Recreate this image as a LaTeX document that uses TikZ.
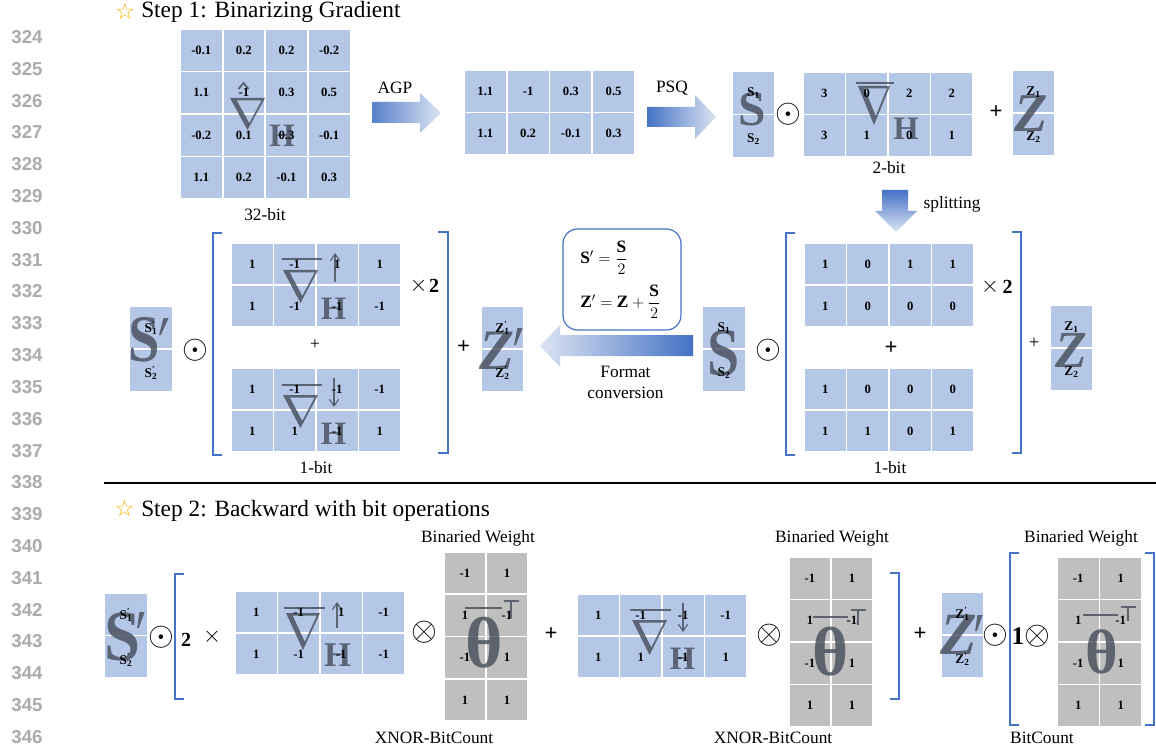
\documentclass[tikz,border=0pt]{standalone}
\usepackage{fontspec}
\usepackage{amsmath}
\setmainfont{Liberation Serif}
\newfontfamily\djv{DejaVu Sans}
\newfontfamily\lsans{Liberation Sans}
\usetikzlibrary{arrows.meta}
\definecolor{cellblue}{HTML}{B4C7E7}
\definecolor{cellgray}{HTML}{BFBFBF}
\definecolor{accblue}{HTML}{4472C4}
\definecolor{paleblue}{HTML}{DCE4F2}
\definecolor{ovlc}{HTML}{444C59}
\definecolor{lnumc}{HTML}{ABABAB}
\definecolor{staryel}{HTML}{F7B500}
\newcommand\myfs[1]{\fontsize{#1}{#1}\selectfont}
\pgfdeclarelayer{bg}\pgfdeclarelayer{cells}\pgfdeclarelayer{ovl}
\pgfsetlayers{bg,cells,ovl,main}
\tikzset{
  num/.style={font=\bfseries\myfs{9.5}, inner sep=0pt},
  lbl/.style={font=\bfseries\myfs{10}, inner sep=0pt},
  capt/.style={font=\myfs{13}, inner sep=0pt},
  ovlt/.style={text=ovlc, opacity=0.8, inner sep=0pt},
  ovlf/.style={fill=ovlc, opacity=0.8},
  ovlbar/.style={draw=ovlc, opacity=0.8, line width=1.9pt},
  ovlthin/.style={draw=ovlc, opacity=0.8, line width=0.9pt},
  gar/.style={ovlthin, -{Straight Barb[length=5pt,width=7pt]}},
  brk/.style={draw=accblue, line width=1.1pt},
  op/.style={inner sep=0pt, font=\myfs{23}},
  plusb/.style={inner sep=0pt, font=\bfseries\myfs{17}},
  plusr/.style={inner sep=0pt, font=\myfs{14}},
  lno/.style={inner sep=0pt, text=lnumc, font=\lsans\bfseries\myfs{14}},
  starst/.style={inner sep=0pt, text=staryel, font=\djv\myfs{17}},
  headst/.style={inner sep=0pt, anchor=base west, font=\myfs{17.5}},
}
% matrix of cells: name, x0, y0, cols, cw, ch, colour, values
\newcommand\blkmat[8]{%
  \foreach \mVal [count=\k from 0] in {#8}{%
    \pgfmathtruncatemacro\mRow{div(\k,#4)}%
    \pgfmathtruncatemacro\mCol{mod(\k,#4)}%
    \begin{pgfonlayer}{cells}
      \fill[#7] ({#2+\mCol*#5+0.9},{#3+\mRow*#6+0.9}) rectangle ({#2+(\mCol+1)*#5-0.9},{#3+(\mRow+1)*#6-0.9});
    \end{pgfonlayer}
    \node[num] (#1-\k) at ({#2+(\mCol+0.5)*#5},{#3+(\mRow+0.5)*#6}) {\mVal};
  }%
}
% tall two-cell box: name, x0, y0, w, h, top, bottom
\newcommand\tallbox[7]{%
  \begin{pgfonlayer}{cells}
    \fill[cellblue] (#2,#3) rectangle ({#2+#4},{#3+#5/2-0.9});
    \fill[cellblue] (#2,{#3+#5/2+0.9}) rectangle ({#2+#4},{#3+#5});
  \end{pgfonlayer}
  \node[lbl] (#1-t) at ({#2+#4/2},{#3+0.25*#5}) {#6};
  \node[lbl] (#1-b) at ({#2+#4/2},{#3+0.79*#5}) {#7};
}
% nabla outline: left top right bottom
\newcommand\drawnabla[4]{%
  \pgfmathsetmacro\nabW{#3-#1}%
  \pgfmathsetmacro\nabH{#4-#2}%
  \pgfmathsetmacro\nabD{2.5/\nabH}%
  \pgfmathsetmacro\nabS{1-(7.5)/\nabW}%
  \fill[ovlf, even odd rule] (#1,#2) -- (#3,#2) -- ({(#1+#3)/2},#4) -- cycle
    ({#1+5.5+\nabW/2*\nabD},{#2+2.5}) -- ({#3-2-\nabW/2*\nabD},{#2+2.5}) -- ({#1+5.5+\nabW/2*\nabS},{#2+\nabH*\nabS}) -- cycle;
}
\newcommand\prm[4]{\fill[ovlf] ({#1-2.6},#2) -- ({#1+2.6},#2) -- ({#3+0.9},#4) -- ({#3-0.9},#4) -- cycle;}
\newcommand\topsym[3]{\draw[ovlthin] ({#1-7.5},#2) -- ({#1+7.5},#2) (#1,#2) -- (#1,#3);}

\begin{document}
\begin{tikzpicture}[x=0.75pt,y=-0.75pt]
\useasboundingbox (0,0) rectangle (1156,752);
\begin{pgfonlayer}{bg}
  \fill[white] (0,0) rectangle (1156,752);
\end{pgfonlayer}

% line numbers
\foreach \i in {0,...,22}{%
  \pgfmathtruncatemacro\myLn{324+\i}%
  \node[lno] (ln\myLn) at (27,{37+31.82*\i}) {\myLn};
}

% headers
\node[starst] (star1) at (125,11) {☆};
\node[headst] (step1) at (141,17.5) {Step 1: Binarizing Gradient};
\draw[line width=1.1pt] (104,483) -- (1156,483);
\node[starst] (star2) at (124.5,508.5) {☆};
\node[headst] (step2) at (141,516.5) {Step 2: Backward with bit operations};

% ---------------- Row 1 ----------------
\blkmat{ma}{180}{29}{4}{42.6}{42.5}{cellblue}{-0.1,0.2,0.2,-0.2,1.1,-1,0.3,0.5,-0.2,0.1,0.3,-0.1,1.1,0.2,-0.1,0.3}
\node[capt] (c32) at (265,215) {32-bit};
\shade[left color=accblue!90, right color=paleblue] (372,102) -- (420,102) -- (420,93) -- (441,113) -- (420,133) -- (420,123) -- (372,123) -- cycle;
\node[capt] (agp) at (395,88) {AGP};
\blkmat{mb}{464}{70}{4}{42.75}{42.5}{cellblue}{1.1,-1,0.3,0.5,1.1,0.2,-0.1,0.3}
\shade[left color=accblue, right color=paleblue] (647,107) -- (695,107) -- (695,95) -- (716,117) -- (695,139) -- (695,127) -- (647,127) -- cycle;
\node[capt] (psq) at (672,88) {PSQ};
\tallbox{sa}{733}{72}{41}{85}{S\textsubscript{1}}{S\textsubscript{2}}
\node[op] (od1) at (788,114) {$\odot$};
\blkmat{mc}{803}{72}{4}{42.5}{42.5}{cellblue}{3,0,2,2,3,1,0,1}
\node[plusb] (p1) at (996,112) {+};
\tallbox{za}{1013}{71}{41}{84}{Z\textsubscript{1}}{Z\textsubscript{2}}
\node[capt] (c2) at (889,168) {2-bit};
\shade[top color=accblue, bottom color=paleblue] (882,190) -- (908,190) -- (908,211) -- (917,211) -- (896,232) -- (875,211) -- (882,211) -- cycle;
\node[capt] (spl) at (952,204) {splitting};

% ---------------- Row 2 ----------------
\tallbox{sb}{130}{307}{42}{84}{S\rlap{\textsuperscript{′}}\textsubscript{1}}{S\rlap{\textsuperscript{′}}\textsubscript{2}}
\node[op] (od2) at (195,350) {$\odot$};
\draw[brk] (222,233) -- (213,233) -- (213,455) -- (222,455);
\blkmat{md}{231}{243}{4}{42.5}{42}{cellblue}{1,-1,1,1,1,-1,-1,-1}
\node[inner sep=0pt, font=\myfs{13}] (p2) at (315,345) {+};
\blkmat{me}{231}{368}{4}{42.5}{42}{cellblue}{1,-1,-1,-1,1,1,-1,1}
\node[inner sep=0pt, font=\myfs{17}] (x1) at (418.5,286) {$\times$};
\node[inner sep=0pt, font=\bfseries\myfs{15}] (t1) at (434,286) {2};
\draw[brk] (438,232) -- (448,232) -- (448,453) -- (438,453);
\node[plusb] (p3) at (463.5,347) {+};
\node[capt] (c1a) at (316,468) {1-bit};
\tallbox{zb}{482}{307}{41}{84}{Z\rlap{\textsuperscript{′}}\textsubscript{1}}{Z\rlap{\textsuperscript{′}}\textsubscript{2}}
\shade[left color=paleblue, right color=accblue] (693,335) -- (560,335) -- (560,325) -- (540,346) -- (560,367) -- (560,356) -- (693,356) -- cycle;
\node[capt, align=center, font=\fontsize{13}{16}\selectfont] (fc) at (625.5,382.5) {Format\\conversion};
\node[draw=accblue, line width=0.9pt, rounded corners=11pt, minimum width=88.5pt, minimum height=75.75pt, inner sep=0pt] (eqbox) at (622,279.5) {};
\node[anchor=west, inner sep=0pt, font=\myfs{13}] (eq1) at (580,258) {$\mathbf{S}'=\dfrac{\mathbf{S}}{2}$};
\node[anchor=west, inner sep=0pt, font=\myfs{13}] (eq2) at (580,302) {$\mathbf{Z}'=\mathbf{Z}+\dfrac{\mathbf{S}}{2}$};
\tallbox{sc}{703}{307}{42}{84}{S\textsubscript{1}}{S\textsubscript{2}}
\node[op] (od3) at (768,350) {$\odot$};
\draw[brk] (795,233) -- (786,233) -- (786,455) -- (795,455);
\blkmat{mf}{804}{243}{4}{42.5}{42}{cellblue}{1,0,1,1,1,0,0,0}
\node[plusb] (p4) at (891,348) {+};
\blkmat{mg}{804}{368}{4}{42.5}{42}{cellblue}{1,0,0,0,1,1,0,1}
\node[inner sep=0pt, font=\myfs{17}] (x2) at (990,286.5) {$\times$};
\node[inner sep=0pt, font=\bfseries\myfs{15}] (t2) at (1007.5,286.5) {2};
\draw[brk] (1012,232) -- (1021,232) -- (1021,453) -- (1012,453);
\node[plusr] (p5) at (1034,343) {+};
\tallbox{zc}{1051}{306}{41}{84}{Z\textsubscript{1}}{Z\textsubscript{2}}
\node[capt] (c1b) at (890,468) {1-bit};

% ---------------- Row 3 ----------------
\tallbox{sd}{105}{594}{42}{83}{S\rlap{\textsuperscript{′}}\textsubscript{1}}{S\rlap{\textsuperscript{′}}\textsubscript{2}}
\node[op] (od4) at (161,637) {$\odot$};
\draw[brk] (184,574) -- (175,574) -- (175,699) -- (184,699);
\node[inner sep=0pt, font=\bfseries\myfs{15}] (t3) at (186,640) {2};
\node[inner sep=0pt, font=\myfs{17}] (x3) at (212,637) {$\times$};
\blkmat{mh}{235}{591}{4}{42.5}{42}{cellblue}{1,-1,1,-1,1,-1,-1,-1}
\node[op] (ot1) at (424,632) {$\otimes$};
\blkmat{ga}{444}{552}{2}{42}{42.25}{cellgray}{-1,1,1,-1,-1,1,1,1}
\node[capt] (bw1) at (478,538) {Binaried Weight};
\node[capt] (xb1) at (434,738) {XNOR-BitCount};
\node[plusb] (p6) at (551,634) {+};
\blkmat{mi}{577}{594}{4}{42.5}{42}{cellblue}{1,-1,-1,-1,1,1,-1,1}
\node[op] (ot2) at (769,635) {$\otimes$};
\blkmat{gb}{789}{557}{2}{42}{42.5}{cellgray}{-1,1,1,-1,-1,1,1,1}
\node[capt] (bw2) at (832,538) {Binaried Weight};
\node[capt] (xb2) at (773,738) {XNOR-BitCount};
\draw[brk] (890,573) -- (899,573) -- (899,699) -- (890,699);
\node[plusb] (p7) at (920,634) {+};
\tallbox{zd}{942}{593}{41}{84}{Z\rlap{\textsuperscript{′}}\textsubscript{1}}{Z\rlap{\textsuperscript{′}}\textsubscript{2}}
\node[op] (od5) at (995,635) {$\odot$};
\draw[brk] (1019,553) -- (1010,553) -- (1010,725) -- (1019,725);
\node[inner sep=0pt, font=\bfseries\myfs{19}] (one) at (1018,636) {1};
\node[op] (ot3) at (1037,636) {$\otimes$};
\blkmat{gc}{1057}{557}{2}{42.5}{42.5}{cellgray}{-1,1,1,-1,-1,1,1,1}
\draw[brk] (1145,553) -- (1154,553) -- (1154,725) -- (1145,725);
\node[capt] (bw3) at (1081,538) {Binaried Weight};
\node[capt] (bc) at (1042,738) {BitCount};

% ---------------- overlays ----------------
\begin{pgfonlayer}{ovl}
  % M1: hat nabla H
  \draw[ovlthin, line width=1.4pt] (238.5,89) -- (243.5,83) -- (248.5,89);
  \drawnabla{230}{98}{265}{130}
  \node[ovlt, font=\bfseries\myfs{24.5}] at (282,136) {H};
  % S / Z row 1
  \node[ovlt, font=\bfseries\myfs{37}] at (752.5,109) {S};
  \node[ovlt, font=\bfseries\itshape\myfs{41}] at (1031,113.5) {Z};
  % M3
  \draw[ovlbar] (856,83) -- (894,83);
  \drawnabla{858}{86}{890}{125}
  \node[ovlt, font=\bfseries\myfs{24.5}] at (906,129) {H};
  % row 2 left
  \node[ovlt, font=\bfseries\myfs{50}, xscale=0.85] at (144.5,340) {S};
  \prm{166}{318}{160}{335}
  \draw[ovlbar] (282,259) -- (322,259);
  \drawnabla{283}{270}{318}{303}
  \draw[gar] (335,282) -- (335,253);
  \node[ovlt, font=\bfseries\myfs{24.5}] at (333.5,309) {H};
  \draw[ovlbar] (282,385) -- (322,385);
  \drawnabla{283}{395}{318}{428}
  \draw[gar] (334,378) -- (334,407);
  \node[ovlt, font=\bfseries\myfs{24.5}] at (333.5,433.5) {H};
  \node[ovlt, font=\bfseries\itshape\myfs{43}] at (497.5,351) {Z};
  \prm{520}{328}{515}{345}
  % row 2 right
  \node[ovlt, font=\bfseries\myfs{51}, xscale=0.85] at (723.5,353.5) {S};
  \node[ovlt, font=\bfseries\itshape\myfs{39}] at (1071,350.5) {Z};
  % row 3
  \node[ovlt, font=\bfseries\myfs{54}, xscale=0.9] at (122.5,637) {S};
  \prm{142}{612}{138}{628}
  \draw[ovlbar] (284,608) -- (325,608);
  \drawnabla{286}{613}{320}{650}
  \draw[gar] (337,628) -- (337,602);
  \node[ovlt, font=\bfseries\myfs{26}] at (337.5,655) {H};
  \draw[ovlbar] (465,608) -- (502,608);
  \node[ovlt, font=\bfseries\myfs{54}] at (484,642.5) {θ};
  \topsym{511}{601}{618}
  \draw[ovlbar] (630,610) -- (671,610);
  \drawnabla{632}{620}{667}{655}
  \draw[gar] (683,603) -- (683,632);
  \node[ovlt, font=\bfseries\myfs{24.5}] at (682.5,659) {H};
  \draw[ovlbar] (813,617) -- (848,617);
  \node[ovlt, font=\bfseries\myfs{52}] at (831,651.5) {θ};
  \topsym{858}{610}{625}
  \node[ovlt, font=\bfseries\itshape\myfs{45}] at (959,635) {Z};
  \prm{980}{615}{976}{631}
  \draw[ovlbar] (1083,615) -- (1118,615);
  \node[ovlt, font=\bfseries\myfs{47}] at (1102,651.5) {θ};
  \topsym{1128}{607}{621}
\end{pgfonlayer}
\end{tikzpicture}
\end{document}
